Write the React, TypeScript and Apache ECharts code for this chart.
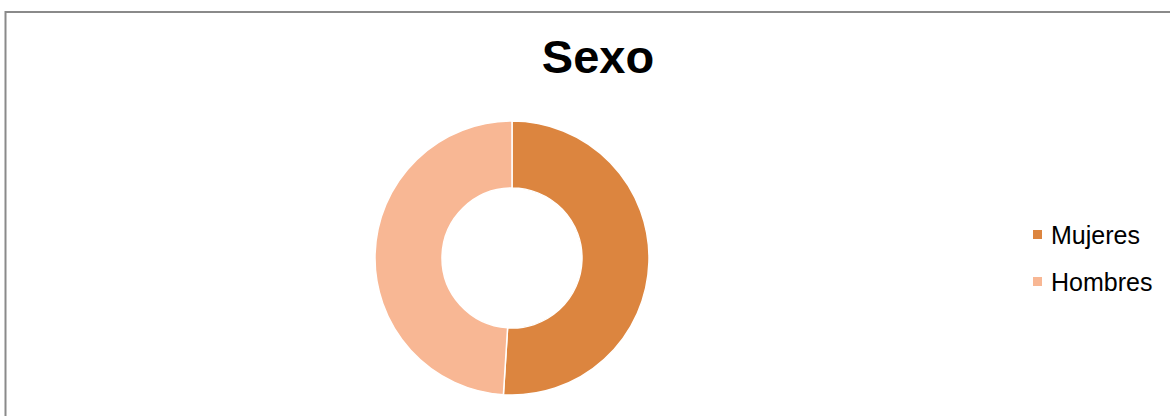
import React, { useEffect, useRef } from "react";
import * as echarts from "echarts";

const categories = ["Mujeres", "Hombres"];
const values = [51, 49];
const colors = ["#DC853F", "#F8B794"];
const titleText = "Sexo";

export default function App() {
  const ref = useRef<HTMLDivElement>(null);
  useEffect(() => {
    if (!ref.current) return;
    const chart = echarts.init(ref.current, undefined, { renderer: "svg" });
    chart.setOption({
      animation: false,
      backgroundColor: "#ffffff",
      title: {
        text: titleText,
        left: 593,
        top: 28,
        textAlign: "center",
        textStyle: {
          fontFamily: "Liberation Sans, Arial, sans-serif",
          fontWeight: "bold",
          fontSize: 47,
          color: "#000000",
        },
      },
      legend: {
        orient: "vertical",
        left: 1026,
        top: 217,
        itemWidth: 11,
        itemHeight: 11,
        itemGap: 22,
        icon: "rect",
        data: categories,
        textStyle: {
          fontFamily: "Liberation Sans, Arial, sans-serif",
          fontSize: 25,
          color: "#000000",
          padding: [0, 0, 0, 3],
        },
      },
      graphic: [
        {
          type: "rect",
          shape: { x: 5.5, y: 12, width: 1300, height: 600 },
          style: { fill: "none", stroke: "#8a8a8a", lineWidth: 2 },
          silent: true,
        },
      ],
      series: [
        {
          type: "pie",
          center: [512, 258],
          radius: [70, 137],
          startAngle: 90,
          clockwise: true,
          label: { show: false },
          labelLine: { show: false },
          emphasis: { disabled: true },
          itemStyle: { borderColor: "#ffffff", borderWidth: 1.5 },
          data: categories.map((name, i) => ({
            name,
            value: values[i],
            itemStyle: { color: colors[i] },
          })),
        },
      ],
    });
    return () => chart.dispose();
  }, []);
  return (
    <div
      ref={ref}
      style={{ position: "absolute", left: 0, top: 0, width: 1170, height: 416 }}
    />
  );
}
